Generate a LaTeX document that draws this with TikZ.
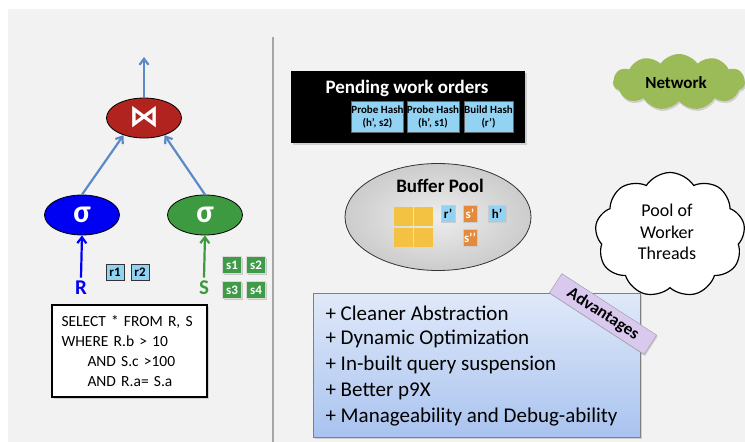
\documentclass[tikz,border=0pt]{standalone}
\usepackage{fontspec}
\setmainfont{Carlito}
\newfontfamily\symfont{DejaVu Sans}
\usetikzlibrary{shapes.geometric,shapes.symbols,arrows.meta,shadows}
\definecolor{bgcol}{HTML}{F2F2F2}
\definecolor{arrblue}{HTML}{5B8AC6}
\definecolor{joinred}{HTML}{B0231E}
\definecolor{sigblue}{HTML}{0000F2}
\definecolor{siggreen}{HTML}{3E9A40}
\definecolor{tupblue}{HTML}{92D3F3}
\definecolor{tupgreen}{HTML}{3F9B47}
\definecolor{pageyel}{HTML}{F4C242}
\definecolor{tuporange}{HTML}{E38B3B}
\definecolor{netgreen}{HTML}{9BBB59}
\definecolor{tagpurple}{HTML}{D9C9EE}
\definecolor{advtop}{HTML}{E0E9F9}
\definecolor{advbot}{HTML}{A9C3EF}
\tikzset{
  opnode/.style={ellipse, draw=black, line width=0.8pt, minimum width=75pt, minimum height=40pt, inner sep=0pt, text=white, font=\bfseries\fontsize{32}{32}\selectfont},
  flow/.style={arrblue, line width=2.2pt, -{Straight Barb[length=6pt,width=9pt]}},
  tupb/.style={draw=black!80, fill=tupblue, line width=0.7pt, minimum width=18pt, minimum height=16pt, inner sep=0pt, font=\bfseries\fontsize{13}{13}\selectfont, drop shadow={shadow xshift=1pt, shadow yshift=-1pt, opacity=0.35}},
  tupg/.style={draw=white!85!black, fill=tupgreen, line width=0.5pt, minimum width=19pt, minimum height=17pt, inner sep=0pt, text=white, font=\bfseries\fontsize{13}{13}\selectfont, drop shadow={shadow xshift=1pt, shadow yshift=-1pt, opacity=0.35}},
  hashbox/.style={draw=black!60, fill=tupblue, line width=0.5pt, minimum width=49pt, minimum height=31pt, inner sep=0pt, align=center, font=\bfseries\fontsize{11}{12.5}\selectfont},
  page/.style={fill=pageyel, minimum width=19pt, minimum height=19pt, inner sep=0pt},
  bufb/.style={draw=white!80!black, fill=tupblue, line width=0.5pt, minimum width=14pt, minimum height=17pt, inner sep=0pt, font=\bfseries\fontsize{13}{13}\selectfont},
  bufo/.style={draw=white!80!black, fill=tuporange, line width=0.5pt, minimum width=14pt, minimum height=17pt, inner sep=0pt, text=white, font=\bfseries\fontsize{13}{13}\selectfont},
  advline/.style={anchor=west, font=\fontsize{21}{21}\selectfont}
}
\begin{document}
\begin{tikzpicture}[x=1pt,y=-1pt]
\path[use as bounding box] (0,0) rectangle (745,442);
\fill[white] (0,0) rectangle (745,442);
\fill[bgcol] (8,9) rectangle (745,442);
\draw[gray!70, line width=1.2pt] (273,37) -- (273,442);

% query tree
\node[opnode, fill=joinred] (join) at (144,118) {};
\node[text=white, font=\symfont\bfseries\fontsize{30}{30}\selectfont] (bowtie) at (144,117) {⋈};
\node[opnode, fill=sigblue] (selr) at (82,215) {σ};
\node[opnode, fill=siggreen] (sels) at (205,215) {σ};
\coordinate (out) at (144,57);
\draw[flow] (join.north) -- (out);
\draw[flow] (selr.north) -- (join.220);
\draw[flow] (sels.north) -- (join.320);

\node[text=sigblue, font=\bfseries\fontsize{21}{21}\selectfont] (R) at (81,288) {R};
\node[text=siggreen, font=\bfseries\fontsize{21}{21}\selectfont] (S) at (204,288) {S};
\draw[sigblue, line width=2.2pt, -{Straight Barb[length=6pt,width=9pt]}] (R.north) -- (selr.south);
\draw[siggreen, line width=2.2pt, -{Straight Barb[length=6pt,width=9pt]}] (S.north) -- (sels.south);

\node[tupb] (r1) at (115,272) {r1};
\node[tupb] (r2) at (140,272) {r2};
\node[tupg] (s1) at (232,265) {s1};
\node[tupg] (s2) at (256,265) {s2};
\node[tupg] (s3) at (232,290) {s3};
\node[tupg] (s4) at (256,290) {s4};

\node[draw=black, fill=white, line width=1.6pt, minimum width=155pt, minimum height=92pt, text width=136pt, align=left, inner sep=0pt, font=\fontsize{15.5}{20}\selectfont, drop shadow={shadow xshift=1.5pt, shadow yshift=-1.5pt, opacity=0.3}] (sql) at (129.5,351) {SELECT * FROM R, S\\WHERE R.b > 10\\\hspace*{26pt}AND S.c >100\\\hspace*{26pt}AND R.a= S.a};

% pending work orders
\node[fill=black, minimum width=234pt, minimum height=72pt, inner sep=0pt, drop shadow={shadow xshift=1.5pt, shadow yshift=-1.5pt, opacity=0.3}] (pending) at (408,107) {};
\node[text=white, font=\bfseries\fontsize{19}{19}\selectfont] (pendlbl) at (407,88) {Pending work orders};
\node[hashbox] (ph1) at (377.5,117) {Probe Hash\\(h’, s2)};
\node[hashbox] (ph2) at (433,117) {Probe Hash\\(h’, s1)};
\node[hashbox] (bh) at (488.5,117) {Build Hash\\(r’)};

% buffer pool
\node[ellipse, draw=black!80, line width=0.8pt, inner color=white!93!black, outer color=white!80!black, minimum width=186pt, minimum height=107pt] (pool) at (438,217) {};
\node[font=\bfseries\fontsize{19}{19}\selectfont] (poollbl) at (440,186) {Buffer Pool};
\node[page] (p1) at (403,216) {};
\node[page] (p2) at (423.5,216) {};
\node[page] (p3) at (403,237.5) {};
\node[page] (p4) at (423.5,237.5) {};
\node[bufb] (rp) at (448,214) {r’};
\node[bufo] (sp) at (470,214) {s’};
\node[bufb, minimum width=18pt] (hp) at (497,214) {h’};
\node[bufo] (spp) at (470,238) {s’’};

% clouds
\node[cloud, cloud puffs=11, cloud puff arc=110, aspect=2.6, fill=netgreen, minimum width=132pt, minimum height=56pt, inner sep=0pt, drop shadow={shadow xshift=1pt, shadow yshift=-2pt, opacity=0.3}] (net) at (679,82) {};
\node[font=\bfseries\fontsize{17}{17}\selectfont] (netlbl) at (676,83) {Network};
\node[cloud, cloud puffs=9, cloud puff arc=115, aspect=1.2, draw=black, line width=1.2pt, fill=white, minimum width=150pt, minimum height=125pt, inner sep=0pt] (workers) at (670,235) {};
\node[align=center, font=\fontsize{18}{21.5}\selectfont] (worklbl) at (667,232) {Pool of\\Worker\\Threads};

% advantages
\node[draw=black!50, line width=0.6pt, top color=advtop, bottom color=advbot, minimum width=327pt, minimum height=144pt, inner sep=0pt, drop shadow={shadow xshift=1.5pt, shadow yshift=-1.5pt, opacity=0.3}] (adv) at (476.5,365) {};
\node[advline] (a1) at (322,313) {+ Cleaner Abstraction};
\node[advline] (a2) at (322,339) {+ Dynamic Optimization};
\node[advline] (a3) at (322,365) {+ In-built query suspension};
\node[advline] (a4) at (322,391) {+ Better p9X};
\node[advline] (a5) at (322,417) {+ Manageability and Debug-ability};
\node[draw=black!40, fill=tagpurple, rotate=-33, minimum width=113pt, minimum height=23pt, inner sep=0pt, font=\bfseries\fontsize{17}{17}\selectfont, drop shadow={shadow xshift=1pt, shadow yshift=-1.5pt, opacity=0.3}] (tag) at (603,314) {Advantages};
\end{tikzpicture}
\end{document}
